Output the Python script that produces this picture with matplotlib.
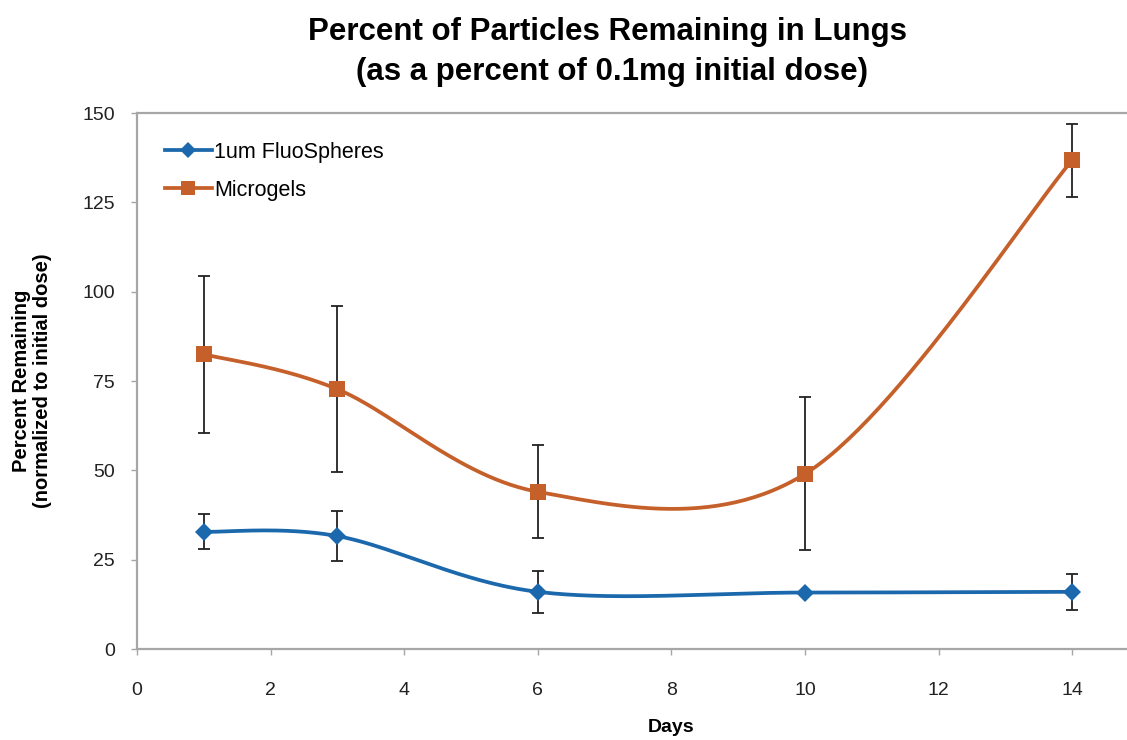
import numpy as np
import matplotlib
matplotlib.use("Agg")
import matplotlib.pyplot as plt
from matplotlib.lines import Line2D

plt.rcParams['font.family'] = ['Liberation Sans', 'DejaVu Sans']

days = [1, 3, 6, 10, 14]
fluo = [32.8, 31.6, 16.0, 15.8, 16.0]
fluo_err = [4.9, 6.9, 5.8, 0.0, 5.0]
microgels = [82.5, 72.7, 44.0, 49.0, 136.8]
microgel_err = [22.0, 23.3, 13.0, 21.4, 10.2]

series_names = ["1um FluoSpheres", "Microgels"]
x_ticks = [0, 2, 4, 6, 8, 10, 12, 14]
y_ticks = [0, 25, 50, 75, 100, 125, 150]

BLUE = "#1b68ac"
ORANGE = "#c6602a"
AXIS_GREY = "#a6a6a6"


def smooth_curve(xs, ys, n=60):
    """Cubic Bezier smoothing through every point (Catmull-Rom style tangents)."""
    pts = np.column_stack([xs, ys]).astype(float)
    padded = np.vstack([pts[0], pts, pts[-1]])
    out = []
    t = np.linspace(0, 1, n)[:, None]
    for i in range(len(pts) - 1):
        p0, p3 = pts[i], pts[i + 1]
        c1 = p0 + (padded[i + 2] - padded[i]) / 6.0
        c2 = p3 - (padded[i + 3] - padded[i + 1]) / 6.0
        seg = ((1 - t) ** 3) * p0 + 3 * ((1 - t) ** 2) * t * c1 \
            + 3 * (1 - t) * t ** 2 * c2 + t ** 3 * p3
        out.append(seg if i == 0 else seg[1:])
    seg = np.vstack(out)
    return seg[:, 0], seg[:, 1]


fig = plt.figure(figsize=(11.27, 7.40), dpi=100)
ax = fig.add_axes([137 / 1127, 91 / 740, 16 * 66.8 / 1127, 536 / 740])

for vals, errs, color, marker, ms in [
    (fluo, fluo_err, BLUE, "D", 9),
    (microgels, microgel_err, ORANGE, "s", 11),
]:
    ax.errorbar(days, vals, yerr=errs, fmt="none", ecolor="#222222",
                elinewidth=1.3, capsize=4, capthick=1.3, zorder=2)
    sx, sy = smooth_curve(days, vals)
    ax.plot(sx, sy, color=color, lw=2.7, zorder=3, solid_capstyle="round")
    ax.plot(days, vals, ls="none", marker=marker, ms=ms, color=color,
            markeredgewidth=0, zorder=4)

ax.set_xlim(0, 16)
ax.set_ylim(0, 150)
ax.set_xticks(x_ticks)
ax.set_yticks(y_ticks)
ax.tick_params(axis="both", direction="out", length=4, width=1,
               color=AXIS_GREY, labelsize=14, labelcolor="#222222")
ax.tick_params(axis="x", pad=20)
ax.tick_params(axis="y", pad=12)
for side in ["left", "bottom", "top", "right"]:
    ax.spines[side].set_color(AXIS_GREY)
    ax.spines[side].set_linewidth(1.6)

fig.text(671 / 1127, 1 - 728 / 740, "Days", fontsize=14, fontweight="bold",
         ha="center", va="center")
fig.text(22 / 1127, 1 - 381 / 740, "Percent Remaining", rotation=90,
         fontsize=14.5, fontweight="bold", ha="center", va="center")
fig.text(43 / 1127, 1 - 381 / 740, "(normalized to initial dose)", rotation=90,
         fontsize=14.5, fontweight="bold", ha="center", va="center")

fig.text(607 / 1127, 1 - 32 / 740, "Percent of Particles Remaining in Lungs",
         fontsize=22.5, fontweight="bold", ha="center", va="center")
fig.text(612 / 1127, 1 - 72 / 740, "(as a percent of 0.1mg initial dose)",
         fontsize=22.5, fontweight="bold", ha="center", va="center")

handles = [
    Line2D([], [], color=BLUE, lw=2.7, marker="D", ms=8, markeredgewidth=0),
    Line2D([], [], color=ORANGE, lw=2.7, marker="s", ms=10, markeredgewidth=0),
]
ax.legend(handles, series_names, loc="upper left",
          bbox_to_anchor=(19 / 1072, 1 - 20 / 536), frameon=False,
          fontsize=15.5, handlelength=2.2, handletextpad=0.1,
          labelspacing=0.8, borderaxespad=0)

fig.savefig("out.png", dpi=100)
